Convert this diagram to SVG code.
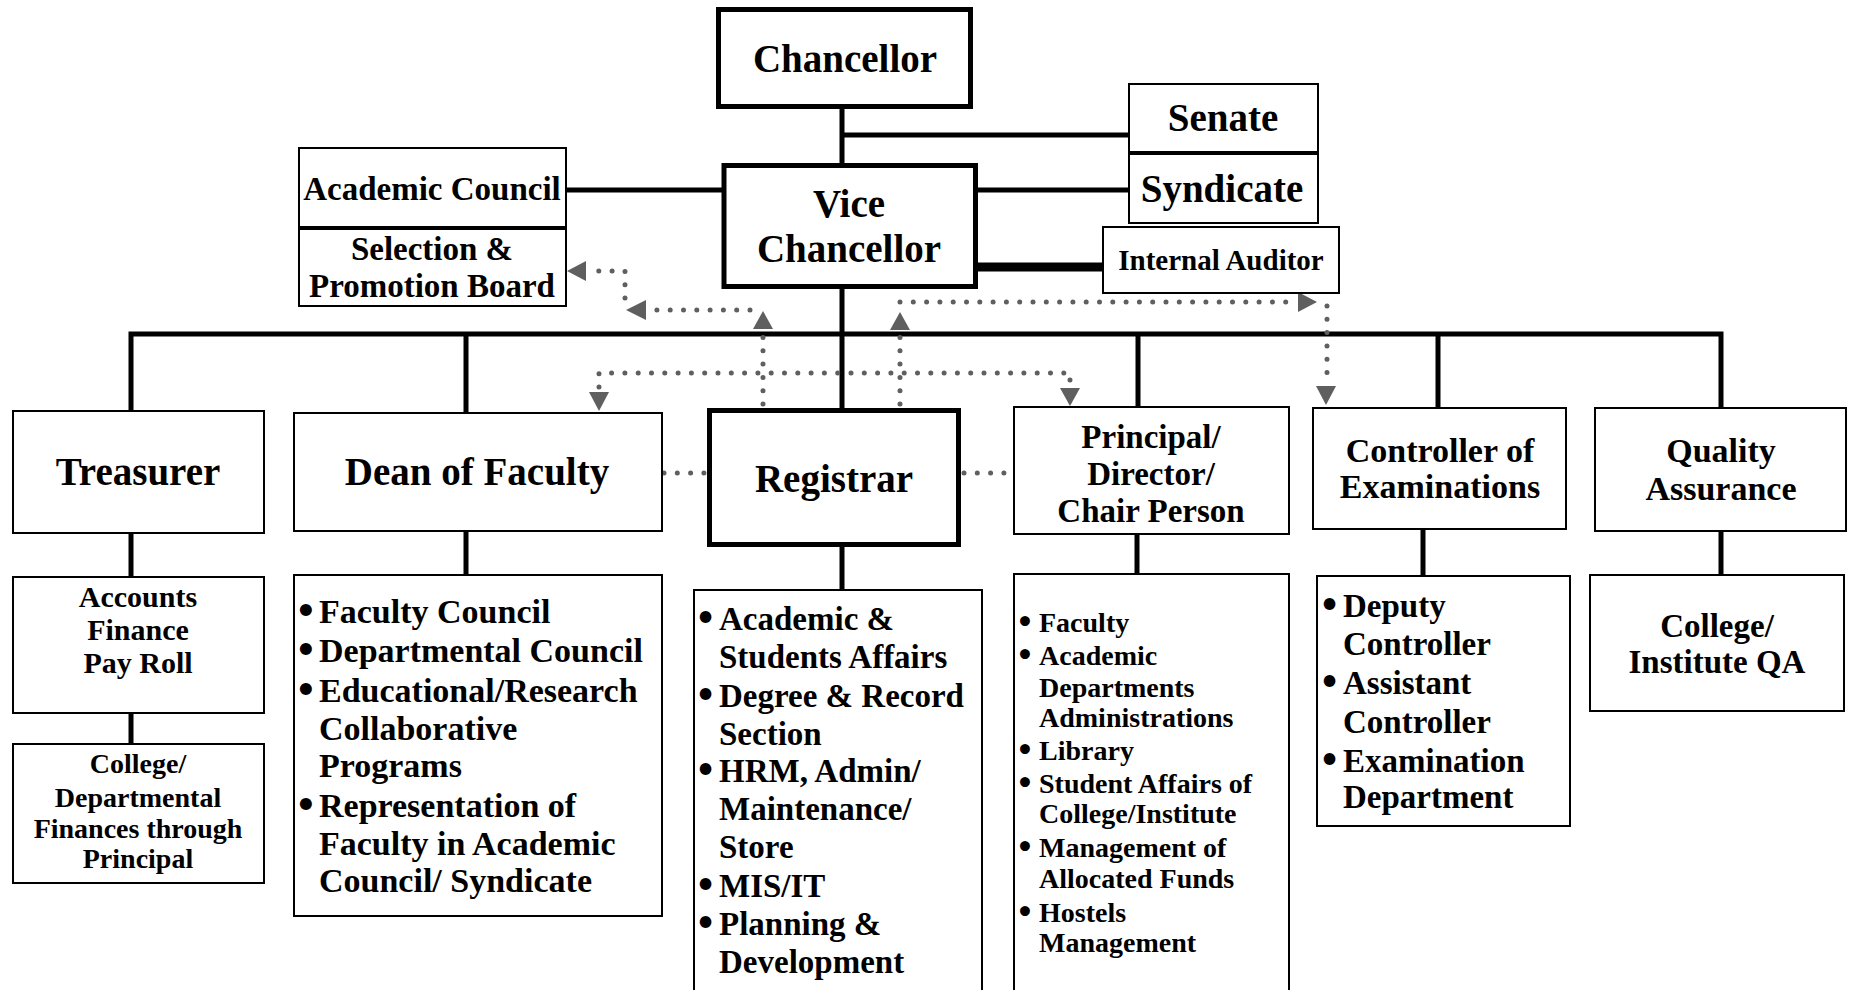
<svg xmlns="http://www.w3.org/2000/svg" width="1850" height="990" viewBox="0 0 1850 990">
<style>
text{font-family:"Liberation Serif","Times New Roman",serif;font-weight:bold;fill:#000}
.c{text-anchor:middle}
.bl{font-family:"DejaVu Sans",sans-serif}
.box{fill:#fff;stroke:#000;stroke-width:2}
.thick{fill:#fff;stroke:#000;stroke-width:5}
.ln{fill:none;stroke:#000;stroke-width:5}
.dot{fill:none;stroke:#5f5f5f;stroke-width:5;stroke-linecap:round;stroke-dasharray:0 13.3}
.ah{fill:#5f5f5f}
.t39{font-size:39px}
.t34{font-size:34px}
.t33{font-size:33px}
.t30{font-size:30px}
.t29{font-size:29px}
.t28{font-size:28px}
</style>
<rect width="1850" height="990" fill="#fff"/>
<g id="connectors">
<path class="ln" d="M842,109 V408"/>
<path class="ln" d="M842,135 H1128"/>
<path class="ln" d="M976,190 H1128"/>
<path class="ln" d="M975,267 H1102" style="stroke-width:9"/>
<path class="ln" d="M566,190 H722"/>
<path class="ln" d="M131,411 V334 H1721 V408"/>
<path class="ln" d="M466,334 V413"/>
<path class="ln" d="M1138,334 V407"/>
<path class="ln" d="M1438,334 V408"/>
<path class="ln" d="M131,533 V577"/>
<path class="ln" d="M131,713 V744"/>
<path class="ln" d="M466,531 V575"/>
<path class="ln" d="M842,547 V590"/>
<path class="ln" d="M1137,534 V574"/>
<path class="ln" d="M1423,529 V576"/>
<path class="ln" d="M1721,531 V575"/>
<path class="dot" d="M763,404 V331"/>
<path class="dot" d="M750,310 H650"/>
<path class="dot" d="M625,298 V271 H590"/>
<path class="dot" d="M900,404 V332"/>
<path class="dot" d="M900,302 H1296"/>
<path class="dot" d="M1327,306 V384"/>
<path class="dot" d="M599,387 V373 H1070 V387"/>
<path class="dot" d="M664,473 H706"/>
<path class="dot" d="M964,473 H1012"/>
<polygon class="ah" points="763,311 753,329 773,329"/>
<polygon class="ah" points="900,312 890,330 910,330"/>
<polygon class="ah" points="567,271 586,261 586,281"/>
<polygon class="ah" points="626,310 646,300 646,320"/>
<polygon class="ah" points="1317,302 1298,292 1298,312"/>
<polygon class="ah" points="1326,405 1316,386 1336,386"/>
<polygon class="ah" points="599,411 589,392 609,392"/>
<polygon class="ah" points="1070,406 1060,388 1080,388"/>
</g>
<g id="chancellor">
<rect class="thick" x="718.5" y="9.5" width="252" height="97"/>
<text class="c t39" x="845" y="72">Chancellor</text>
</g>
<g id="vice-chancellor">
<rect class="thick" x="724" y="165.5" width="251.5" height="121"/>
<text class="c t39" x="849" y="217">Vice</text>
<text class="c t39" x="849" y="262">Chancellor</text>
</g>
<g id="senate">
<rect class="box" x="1129" y="84" width="189" height="68"/>
<text class="c t39" x="1223" y="131">Senate</text>
</g>
<g id="syndicate">
<rect class="box" x="1129" y="154" width="189" height="69"/>
<text class="c t39" x="1222" y="202">Syndicate</text>
</g>
<g id="internal-auditor">
<rect class="box" x="1103" y="227" width="236" height="66"/>
<text class="c t29" x="1221" y="270">Internal Auditor</text>
</g>
<g id="academic-council">
<rect class="box" x="299" y="148" width="267" height="79"/>
<text class="c t33" x="432" y="200">Academic Council</text>
</g>
<g id="selection-promotion-board">
<rect class="box" x="299" y="229" width="267" height="77"/>
<text class="c t33" x="432" y="260">Selection &amp;</text>
<text class="c t33" x="432" y="297">Promotion Board</text>
</g>
<g id="treasurer">
<rect class="box" x="13" y="411" width="251" height="122"/>
<text class="c t39" x="138" y="485">Treasurer</text>
</g>
<g id="dean-of-faculty">
<rect class="box" x="294" y="413" width="368" height="118"/>
<text class="c t39" x="477" y="485">Dean of Faculty</text>
</g>
<g id="registrar">
<rect class="thick" x="709.5" y="410.5" width="249" height="134"/>
<text class="c t39" x="834" y="492">Registrar</text>
</g>
<g id="principal">
<rect class="box" x="1014" y="407" width="275" height="127"/>
<text class="c t33" x="1151" y="448">Principal/</text>
<text class="c t33" x="1151" y="485">Director/</text>
<text class="c t33" x="1151" y="522">Chair Person</text>
</g>
<g id="controller-of-examinations">
<rect class="box" x="1313" y="408" width="253" height="121"/>
<text class="c t34" x="1440" y="462">Controller of</text>
<text class="c t34" x="1440" y="498">Examinations</text>
</g>
<g id="quality-assurance">
<rect class="box" x="1595" y="408" width="251" height="123"/>
<text class="c t34" x="1721" y="462">Quality</text>
<text class="c t34" x="1721" y="500">Assurance</text>
</g>
<g id="accounts">
<rect class="box" x="13" y="577" width="251" height="136"/>
<text class="c t30" x="138" y="607">Accounts</text>
<text class="c t30" x="138" y="640">Finance</text>
<text class="c t30" x="138" y="673">Pay Roll</text>
</g>
<g id="college-finances">
<rect class="box" x="13" y="744" width="251" height="139"/>
<text class="c t28" x="138" y="773">College/</text>
<text class="c t28" x="138" y="807">Departmental</text>
<text class="c t28" x="138" y="838">Finances through</text>
<text class="c t28" x="138" y="868">Principal</text>
</g>
<g id="dean-functions">
<rect class="box" x="294" y="575" width="368" height="341"/>
<g class="t34">
<text x="295" y="623"><tspan class="bl">•</tspan><tspan x="319">Faculty Council</tspan></text>
<text x="295" y="662"><tspan class="bl">•</tspan><tspan x="319">Departmental Council</tspan></text>
<text x="295" y="702"><tspan class="bl">•</tspan><tspan x="319">Educational/Research</tspan></text>
<text x="319" y="740">Collaborative</text>
<text x="319" y="777">Programs</text>
<text x="295" y="817"><tspan class="bl">•</tspan><tspan x="319">Representation of</tspan></text>
<text x="319" y="855">Faculty in Academic</text>
<text x="319" y="892">Council/ Syndicate</text>
</g>
</g>
<g id="registrar-functions">
<rect class="box" x="694" y="590" width="288" height="420"/>
<g class="t33">
<text x="695" y="630"><tspan class="bl">•</tspan><tspan x="719">Academic &amp;</tspan></text>
<text x="719" y="668">Students Affairs</text>
<text x="695" y="707"><tspan class="bl">•</tspan><tspan x="719">Degree &amp; Record</tspan></text>
<text x="719" y="745">Section</text>
<text x="695" y="782"><tspan class="bl">•</tspan><tspan x="719">HRM, Admin/</tspan></text>
<text x="719" y="820">Maintenance/</text>
<text x="719" y="858">Store</text>
<text x="695" y="897"><tspan class="bl">•</tspan><tspan x="719">MIS/IT</tspan></text>
<text x="695" y="935"><tspan class="bl">•</tspan><tspan x="719">Planning &amp;</tspan></text>
<text x="719" y="973">Development</text>
</g>
</g>
<g id="principal-functions">
<rect class="box" x="1014" y="574" width="275" height="436"/>
<g class="t28">
<text x="1016" y="632"><tspan class="bl">•</tspan><tspan x="1039">Faculty</tspan></text>
<text x="1016" y="665"><tspan class="bl">•</tspan><tspan x="1039">Academic</tspan></text>
<text x="1039" y="697">Departments</text>
<text x="1039" y="727">Administrations</text>
<text x="1016" y="760"><tspan class="bl">•</tspan><tspan x="1039">Library</tspan></text>
<text x="1016" y="793"><tspan class="bl">•</tspan><tspan x="1039">Student Affairs of</tspan></text>
<text x="1039" y="823">College/Institute</text>
<text x="1016" y="857"><tspan class="bl">•</tspan><tspan x="1039">Management of</tspan></text>
<text x="1039" y="888">Allocated Funds</text>
<text x="1016" y="922"><tspan class="bl">•</tspan><tspan x="1039">Hostels</tspan></text>
<text x="1039" y="952">Management</text>
</g>
</g>
<g id="controller-functions">
<rect class="box" x="1317" y="576" width="253" height="250"/>
<g class="t33">
<text x="1319" y="617"><tspan class="bl">•</tspan><tspan x="1343">Deputy</tspan></text>
<text x="1343" y="655">Controller</text>
<text x="1319" y="694"><tspan class="bl">•</tspan><tspan x="1343">Assistant</tspan></text>
<text x="1343" y="733">Controller</text>
<text x="1319" y="772"><tspan class="bl">•</tspan><tspan x="1343">Examination</tspan></text>
<text x="1343" y="808">Department</text>
</g>
</g>
<g id="college-qa">
<rect class="box" x="1590" y="575" width="254" height="136"/>
<text class="c t33" x="1717" y="637">College/</text>
<text class="c t33" x="1717" y="673">Institute QA</text>
</g>
</svg>
